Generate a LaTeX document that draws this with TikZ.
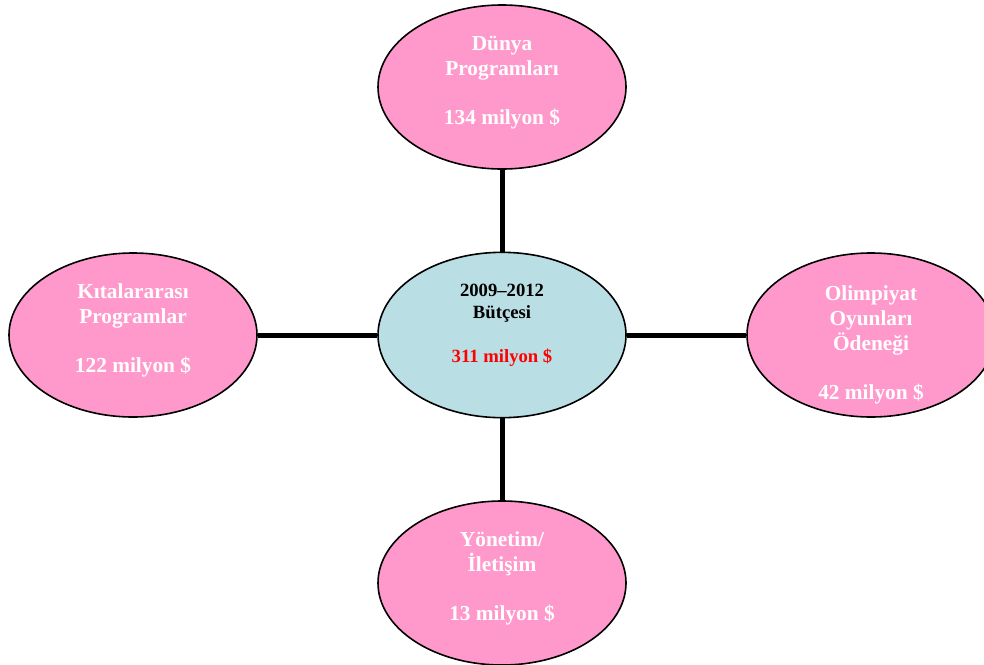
\documentclass[tikz,border=0pt]{standalone}
\usepackage{fontspec}
\setmainfont{Liberation Serif}
\usetikzlibrary{shapes.geometric}
\definecolor{branchpink}{RGB}{255,153,204}
\definecolor{hubblue}{RGB}{185,222,228}
\definecolor{hubred}{RGB}{255,0,0}
\begin{document}
\begin{tikzpicture}[
        x=0.75pt,
        y=-0.75pt,
        blob/.style={
            ellipse,
            minimum width=186pt,
            minimum height=123pt,
            inner sep=0pt,
            draw=black,
            line width=1.2pt
        },
        branch/.style={blob, fill=branchpink},
        hub/.style={blob, minimum height=124pt, fill=hubblue},
        branchtext/.style={
            align=center,
            inner sep=0pt,
            text=white,
            font=\fontsize{16}{18.5}\selectfont\bfseries
        },
        hubtext/.style={
            align=center,
            inner sep=0pt,
            font=\fontsize{14}{16.5}\selectfont\bfseries
        },
        link/.style={line width=3.75pt,black}
    ]

    \useasboundingbox (0,0) rectangle (984,664);

    % Ellipses
    \node (butce) [hub] at (502,335) {};
    \node (dunya) [branch] at (502,87) {};
    \node (kita) [branch] at (133,335) {};
    \node (olimp) [branch] at (871,335) {};
    \node (yonetim) [branch] at (502,583) {};

    % Texts
    \node (butcetext) [hubtext] at ([yshift=7.5pt]butce.center) {2009--2012\\Bütçesi\\[16.5pt]\textcolor{hubred}{311 milyon \$}};

    \node (dunyatext) [branchtext] at ([yshift=3pt]dunya.center) {Dünya\\Programları\\[18.5pt]134 milyon \$};

    \node (kitatext) [branchtext] at ([yshift=3.5pt]kita.center) {Kıtalararası\\Programlar\\[18.5pt]122 milyon \$};

    \node (olimptext) [branchtext] at ([yshift=-7.5pt]olimp.center) {Olimpiyat\\Oyunları\\Ödeneği\\[18.5pt]42 milyon \$};

    \node (yonetimtext) [branchtext] at ([yshift=3.5pt]yonetim.center) {Yönetim/\\İletişim\\[18.5pt]13 milyon \$};

    % Connectors
    \draw[link] (dunya) -- (butce);
    \draw[link] (kita) -- (butce);
    \draw[link] (olimp) -- (butce);
    \draw[link] (yonetim) -- (butce);

    \end{tikzpicture}
\end{document}
